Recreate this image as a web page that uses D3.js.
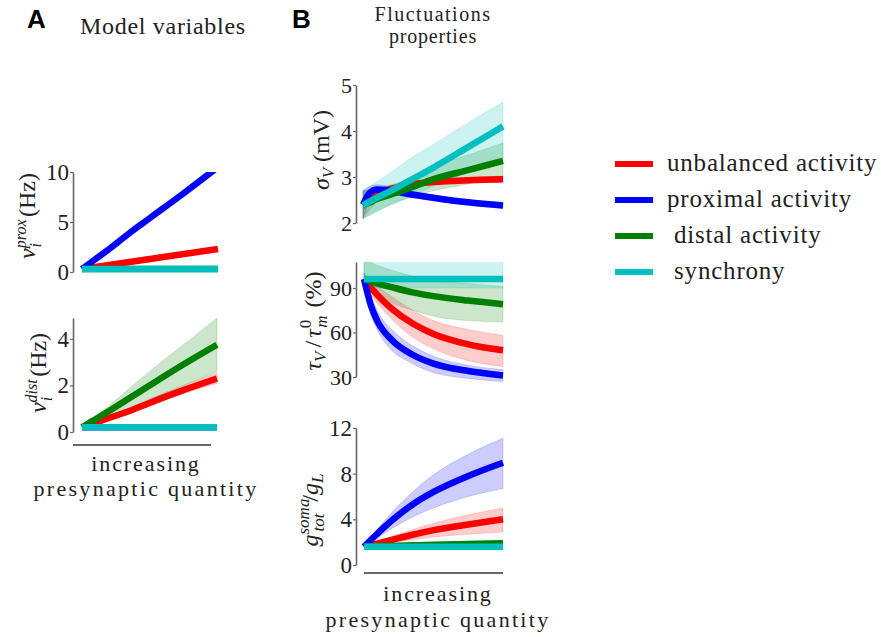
<!DOCTYPE html>
<html><head><meta charset="utf-8">
<script src="https://cdn.jsdelivr.net/npm/d3@7"></script>
<style>
body{margin:0;background:#fff;}
</style></head>
<body><svg id="c" width="881" height="637" style="font-family:'Liberation Serif','Times New Roman','DejaVu Serif',serif"></svg>
<script>
// ---------- data ----------
const xs = [0, 0.05, 0.1, 0.2, 0.35, 0.5, 0.75, 1];
const seriesNames = ["unbalanced activity", "proximal activity", " distal activity", " synchrony"];
const seriesKeys = ["red", "blue", "green", "cyan"];
const colors = ["#ff0000", "#0000ff", "#008000", "#00bfbf"];

// Panel A top: proximal rate (Hz)
const proxRed  = [0.3, 0.4, 0.5, 0.7, 1.0, 1.3, 1.8, 2.3];
const proxBlue = [0.3, 0.8, 1.3, 2.3, 3.9, 5.4, 7.9, 10.5];
const proxGreen= [0.3, 0.3, 0.3, 0.3, 0.3, 0.3, 0.3, 0.3];
const proxCyan = [0.3, 0.3, 0.3, 0.3, 0.3, 0.3, 0.3, 0.3];

// Panel A bottom: distal rate (Hz)
const distRed    = [0.2, 0.3, 0.4, 0.6, 0.9, 1.25, 1.8, 2.3];
const distRedHi  = [0.2, 0.32, 0.45, 0.68, 1.0, 1.4, 2.0, 2.55];
const distRedLo  = [0.2, 0.28, 0.37, 0.55, 0.82, 1.15, 1.65, 2.1];
const distGreen  = [0.2, 0.38, 0.55, 0.9, 1.45, 2.0, 2.9, 3.75];
const distGreenHi= [0.2, 0.43, 0.67, 1.13, 1.87, 2.6, 3.75, 4.9];
const distGreenLo= [0.2, 0.32, 0.44, 0.68, 1.04, 1.4, 2.0, 2.6];
const distBlue   = [0.2, 0.2, 0.2, 0.2, 0.2, 0.2, 0.2, 0.2];
const distCyan   = [0.2, 0.2, 0.2, 0.2, 0.2, 0.2, 0.2, 0.2];

// Panel B top: sigma_V (mV)
const sigRed    = [2.38, 2.52, 2.62, 2.74, 2.84, 2.89, 2.93, 2.95];
const sigRedHi  = [2.7, 2.72, 2.75, 2.82, 2.9, 2.95, 2.99, 3.02];
const sigRedLo  = [2.1, 2.3, 2.47, 2.64, 2.77, 2.83, 2.87, 2.88];
const sigBlue   = [2.4, 2.66, 2.73, 2.7, 2.62, 2.55, 2.45, 2.38];
const sigBlueHi = [2.7, 2.8, 2.83, 2.78, 2.69, 2.61, 2.51, 2.44];
const sigBlueLo = [2.1, 2.5, 2.62, 2.62, 2.55, 2.49, 2.39, 2.32];
const sigGreen  = [2.38, 2.45, 2.52, 2.62, 2.78, 2.95, 3.15, 3.35];
const sigGreenHi= [2.7, 2.73, 2.76, 2.83, 2.98, 3.22, 3.48, 3.74];
const sigGreenLo= [2.1, 2.18, 2.26, 2.4, 2.57, 2.7, 2.85, 3.0];
const sigCyan   = [2.38, 2.47, 2.55, 2.7, 2.95, 3.2, 3.65, 4.1];
const sigCyanHi = [2.7, 2.8, 2.9, 3.1, 3.43, 3.7, 4.18, 4.63];
const sigCyanLo = [2.1, 2.18, 2.25, 2.4, 2.6, 2.8, 3.1, 3.4];

// Panel B middle: tau_V / tau_m^0 (%)
const tauRed    = [96, 90, 85, 76, 66, 59, 52, 48];
const tauRedHi  = [100, 95, 91, 84, 75, 68, 62, 58];
const tauRedLo  = [92, 85, 79, 69, 57, 49, 41, 37];
const tauBlue   = [96, 78, 67, 55, 45, 39, 34, 31];
const tauBlueHi = [100, 85, 74, 62, 51, 44, 38, 35];
const tauBlueLo = [92, 72, 61, 48, 39, 33, 29, 27];
const tauGreen  = [96, 94.5, 93, 90.5, 87, 84.5, 81.5, 79];
const tauGreenHi= [108, 107, 105, 102, 98, 95, 93, 91];
const tauGreenLo= [92, 88, 85, 80, 75, 71, 68, 67];
const tauCyan   = [96, 96, 96, 96, 96, 96, 96, 96];
const tauCyanHi = [110, 110, 110, 110, 110, 110, 110, 110];
const tauCyanLo = [90, 90, 90, 90, 90, 90, 90, 90];

// Panel B bottom: g_tot^soma / g_L
const gRed    = [1.6, 1.75, 1.9, 2.2, 2.65, 3.05, 3.55, 4.0];
const gRedHi  = [1.6, 1.8, 2.0, 2.5, 3.1, 3.65, 4.4, 5.0];
const gRedLo  = [1.6, 1.7, 1.8, 1.95, 2.2, 2.45, 2.7, 2.9];
const gBlue   = [1.6, 2.2, 2.8, 3.9, 5.3, 6.4, 7.8, 8.96];
const gBlueHi = [1.6, 2.4, 3.2, 4.6, 6.4, 7.9, 9.7, 11.1];
const gBlueLo = [1.6, 2.0, 2.4, 3.2, 4.2, 5.0, 6.0, 6.7];
const gGreen  = [1.6, 1.62, 1.64, 1.67, 1.72, 1.77, 1.83, 1.9];
const gCyan   = [1.6, 1.6, 1.6, 1.6, 1.6, 1.6, 1.6, 1.6];

const ticksProx = [0, 5, 10];
const ticksDist = [0, 2, 4];
const ticksSig = [2, 3, 4, 5];
const ticksTau = [30, 60, 90];
const ticksG = [0, 4, 8, 12];

// ---------- drawing ----------
const FONT = "'Liberation Serif','Times New Roman','DejaVu Serif',serif";
const svg = d3.select("#c");
let clipId = 0;

function T(sel, size, ls){
  sel.style("font-family", FONT).style("font-size", size + "px").attr("fill", "#222");
  if(ls) sel.style("letter-spacing", ls + "px");
  return sel;
}

function panel(cfg){
  const x = d3.scaleLinear().domain([0,1]).range(cfg.xr);
  const y = d3.scaleLinear().domain(cfg.yd).range(cfg.yr);
  const g = svg.append("g");
  const id = "clip" + (clipId++);
  svg.append("clipPath").attr("id", id).append("rect")
    .attr("x", cfg.xr[0]-10).attr("y", cfg.yr[1]).attr("width", cfg.xr[1]-cfg.xr[0]+20)
    .attr("height", cfg.yr[0]-cfg.yr[1]+10);
  const plot = g.append("g").attr("clip-path", `url(#${id})`);
  const area = d3.area().x((d,i)=>x(xs[i])).y0(d=>y(d[0])).y1(d=>y(d[1])).curve(d3.curveMonotoneX);
  const line = d3.line().x((d,i)=>x(xs[i])).y(d=>y(d)).curve(d3.curveMonotoneX);
  cfg.series.forEach(s=>{
    if(s.hi){
      plot.append("path").attr("d", area(s.hi.map((v,i)=>[s.lo[i], v])))
        .attr("fill", s.color).attr("fill-opacity", 0.2).attr("stroke", s.color)
        .attr("stroke-opacity", 0.15).attr("stroke-width", 1);
    }
  });
  cfg.series.forEach(s=>{
    plot.append("path").attr("d", line(s.v)).attr("fill","none")
      .attr("stroke", s.color).attr("stroke-width", 6.5).attr("stroke-linecap","butt");
  });
  const ax = d3.axisLeft(y).tickValues(cfg.ticks).tickFormat(d3.format("d"))
    .tickSize(3).tickSizeOuter(0).tickPadding(1);
  const ag = g.append("g").attr("transform", `translate(${cfg.axX},0)`).call(ax);
  ag.attr("font-family", null).attr("font-size", null);
  ag.select(".domain").attr("stroke", "#666").attr("stroke-width", 1.6);
  ag.selectAll(".tick line").attr("stroke", "#666").attr("stroke-width", 1.2);
  T(ag.selectAll(".tick text"), cfg.fs);
  if(cfg.xaxis){
    g.append("line").attr("x1", cfg.xaxis[0]).attr("x2", cfg.xaxis[1])
      .attr("y1", cfg.xaxis[2]).attr("y2", cfg.xaxis[2]).attr("stroke", "#666").attr("stroke-width", 1.8);
  }
  return {x, y};
}

function ser(vals, key, hi, lo){
  const i = seriesKeys.indexOf(key);
  return {v: vals, color: colors[i], hi, lo};
}

panel({xr:[82,218], yd:[0,10], yr:[272,172], axX:73, ticks:ticksProx, fs:23,
  series:[ser(proxRed,"red"), ser(proxBlue,"blue"), ser(proxGreen,"green"), ser(proxCyan,"cyan")]});
panel({xr:[82,217], yd:[0,4.9], yr:[432,318], axX:73, ticks:ticksDist, fs:23, xaxis:[73,211,445],
  series:[ser(distRed,"red",distRedHi,distRedLo), ser(distBlue,"blue"), ser(distGreen,"green",distGreenHi,distGreenLo), ser(distCyan,"cyan")]});
panel({xr:[363,503], yd:[2,5], yr:[223,85], axX:356, ticks:ticksSig, fs:22,
  series:[ser(sigRed,"red",sigRedHi,sigRedLo), ser(sigBlue,"blue",sigBlueHi,sigBlueLo), ser(sigGreen,"green",sigGreenHi,sigGreenLo), ser(sigCyan,"cyan",sigCyanHi,sigCyanLo)]});
panel({xr:[364,503], yd:[30,107.5], yr:[377,262], axX:356, ticks:ticksTau, fs:22,
  series:[ser(tauRed,"red",tauRedHi,tauRedLo), ser(tauBlue,"blue",tauBlueHi,tauBlueLo), ser(tauGreen,"green",tauGreenHi,tauGreenLo), ser(tauCyan,"cyan",tauCyanHi,tauCyanLo)]});
panel({xr:[364,503], yd:[0,12], yr:[565,428], axX:356, ticks:ticksG, fs:23, xaxis:[364,503,573],
  series:[ser(gRed,"red",gRedHi,gRedLo), ser(gBlue,"blue",gBlueHi,gBlueLo), ser(gGreen,"green"), ser(gCyan,"cyan")]});

// ---------- titles ----------
const SANS = "'Liberation Sans',Arial,sans-serif";
svg.append("text").attr("x",27).attr("y",28).style("font-family",SANS).style("font-weight","bold").style("font-size","26px").attr("fill","#000").text("A");
svg.append("text").attr("x",292).attr("y",28).style("font-family",SANS).style("font-weight","bold").style("font-size","26px").attr("fill","#000").text("B");
T(svg.append("text").attr("x",80).attr("y",34), 24, 0.7).text("Model variables");
T(svg.append("text").attr("x",433).attr("y",20.5).attr("text-anchor","middle"), 20, 1.5).text("Fluctuations");
T(svg.append("text").attr("x",433).attr("y",43).attr("text-anchor","middle"), 20, 0.8).text("properties");

function xlabel(cx, y1, y2){
  T(svg.append("text").attr("x",cx).attr("y",y1).attr("text-anchor","middle"), 22, 1.9).text("increasing");
  T(svg.append("text").attr("x",cx).attr("y",y2).attr("text-anchor","middle"), 22, 2.3).text("presynaptic quantity");
}
xlabel(146, 471, 496);
xlabel(438, 601, 627);

// ---------- y labels (math) ----------
function ylabel(cx, cy, parts){
  const t = T(svg.append("text").attr("transform", `translate(${cx},${cy}) rotate(-90)`)
    .attr("text-anchor","middle"), 24);
  parts.forEach(p=>{
    const ts = t.append("tspan").text(p.t);
    if(p.i) ts.style("font-style","italic");
    if(p.s) ts.style("font-size", p.s+"px");
    if(p.dy) ts.attr("dy", p.dy);
    if(p.dx) ts.attr("dx", p.dx);
  });
}
ylabel(35, 216, [{t:"ν",i:1},{t:"prox",i:1,s:16,dy:-9},{t:"i",i:1,s:16,dy:15,dx:-28},{t:" (Hz)",dy:-6,dx:20}]);
ylabel(46, 373, [{t:"ν",i:1},{t:"dist",i:1,s:16,dy:-9},{t:"i",i:1,s:16,dy:15,dx:-22},{t:" (Hz)",dy:-6,dx:14}]);
ylabel(329, 150, [{t:"σ",i:1},{t:"V",i:1,s:17,dy:5},{t:"  (mV)",dy:-5}]);
ylabel(321, 321, [{t:"τ",i:1},{t:"V",i:1,s:17,dy:5},{t:"/",dy:-5,dx:4},{t:"τ",i:1,dx:3},{t:"0",s:17,dy:-10,dx:1},{t:"m",i:1,s:17,dy:16,dx:-8},{t:"  (%)",dy:-6,dx:2}]);
ylabel(318, 510, [{t:"g",i:1},{t:"soma",i:1,s:17,dy:-9},{t:"tot",i:1,s:17,dy:15,dx:-33},{t:"/",dy:-6,dx:12},{t:"g",i:1},{t:"L",i:1,s:17,dy:5}]);

// ---------- legend ----------
const leg = svg.append("g");
const legY = d3.scalePoint().domain(seriesNames).range([164, 272]);
seriesNames.forEach((n,i)=>{
  leg.append("line").attr("x1",615).attr("x2",653).attr("y1",legY(n)).attr("y2",legY(n))
    .attr("stroke",colors[i]).attr("stroke-width",6);
  T(leg.append("text").attr("x",667).attr("y",legY(n)+7), 25, 0.8)
    .attr("xml:space","preserve").style("white-space","pre").text(n);
});
</script></body></html>
